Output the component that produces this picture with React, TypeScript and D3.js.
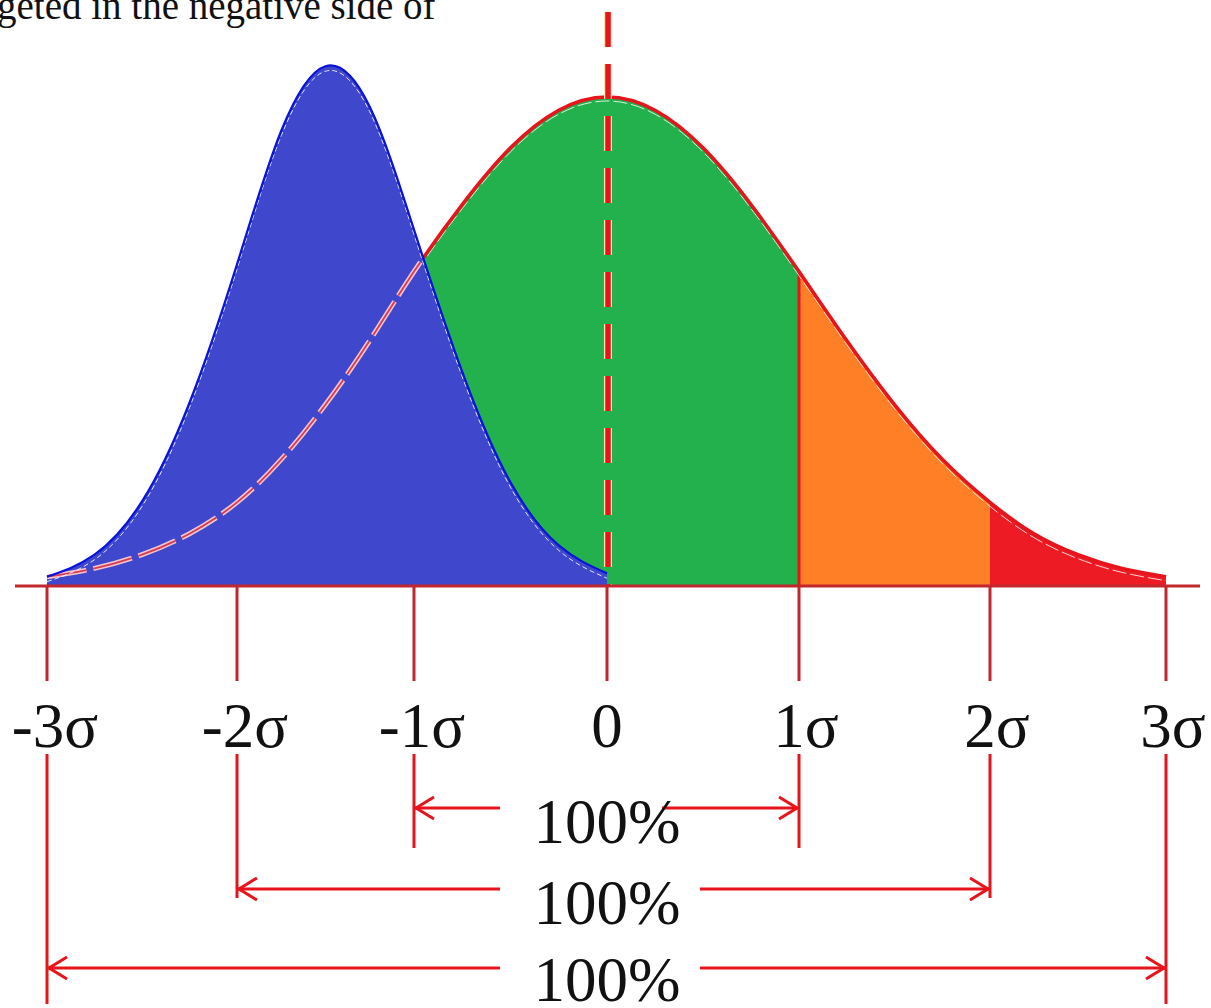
import React from "react";
import * as d3 from "d3";

// ---- data ----
const sigmaTicks = [-3, -2, -1, 0, 1, 2, 3];
const tickLabels = ["-3σ", "-2σ", "-1σ", "0", "1σ", "2σ", "3σ"];

// reference (red) distribution, sampled every 0.25σ, height relative to its peak
const redX = [-3, -2.75, -2.5, -2.25, -2, -1.75, -1.5, -1.25, -1, -0.75, -0.5, -0.25, 0,
  0.25, 0.5, 0.75, 1, 1.25, 1.5, 1.75, 2, 2.25, 2.5, 2.75, 3];
const redY = [0.019, 0.036, 0.064, 0.107, 0.171, 0.259, 0.371, 0.502, 0.643, 0.78, 0.896, 0.973, 1,
  0.973, 0.896, 0.78, 0.643, 0.502, 0.371, 0.259, 0.171, 0.107, 0.064, 0.036, 0.019];

// shifted (blue) distribution
const blueX = [-3, -2.75, -2.5, -2.25, -2, -1.75, -1.5, -1.25, -1, -0.75, -0.5, -0.25, 0];
const blueY = [0.019, 0.064, 0.173, 0.375, 0.658, 0.931, 1.063, 0.98, 0.729, 0.438, 0.212, 0.083, 0.026];

// colored bands under the red curve
const bandFrom = [-3, 1, 2];
const bandTo = [1, 2, 3];
const bandColors = ["#22b14c", "#ff7f27", "#ed1c24"];

// span annotations
const spanFrom = [-1, -2, -3];
const spanTo = [1, 2, 3];
const spanLabels = ["100%", "100%", "100%"];

const topText = "geted in the negative side of";

const W = 1211;
const H = 1008;
const baseY = 586;

export default function App() {
  const x = d3
    .scaleLinear()
    .domain(sigmaTicks)
    .range([47, 237, 414, 607, 799, 990, 1166]);
  const y = d3.scaleLinear().domain([0, 1]).range([baseY, 97]);

  const red = redX.map((v, i) => [v, redY[i]] as [number, number]);
  const blue = blueX.map((v, i) => [v, blueY[i]] as [number, number]);

  const line = d3
    .line<[number, number]>()
    .x((d) => x(d[0]))
    .y((d) => y(d[1]))
    .curve(d3.curveNatural);
  const area = d3
    .area<[number, number]>()
    .x((d) => x(d[0]))
    .y0(baseY)
    .y1((d) => y(d[1]))
    .curve(d3.curveNatural);

  const redPath = line(red) || "";
  const bluePath = line(blue) || "";
  const blueArea = area(blue) || "";

  const serif = "'Liberation Serif', 'Times New Roman', serif";
  const lineRed = "#e8141b";
  const tickRed = "#c1272d";

  const rowY = [808, 889, 968];
  const textBase = [843, 924, 1001];
  const gapLeft = [500, 500, 500];
  const gapRight = [662, 700, 700];
  const tickEnd = [848, 898, 1004];

  const redVal = (v: number) => redY[redX.indexOf(v)];

  return (
    <svg
      width={W}
      height={H}
      style={{ position: "absolute", left: 0, top: 0, background: "#fff" }}
    >
      <rect x={0} y={0} width={W} height={H} fill="#fff" />
      <text x={-3} y={19} fontFamily={serif} fontSize={39} fill="#111">
        {topText}
      </text>

      {/* bands under the red curve */}
      {bandFrom.map((f, i) => {
        const pts = red.filter((d) => d[0] >= f && d[0] <= bandTo[i]);
        return <path key={"b" + i} d={area(pts) || ""} fill={bandColors[i]} />;
      })}
      {/* boundary line at 1σ */}
      <line x1={x(1)} x2={x(1)} y1={baseY} y2={y(redVal(1))} stroke={lineRed} strokeWidth={3} />

      {/* white inner highlight and red curve */}
      <path d={redPath} fill="none" stroke="#fff" strokeWidth={1} strokeDasharray="14 4" transform="translate(0,4)" opacity={0.8} />
      <path d={redPath} fill="none" stroke={lineRed} strokeWidth={3.5} />

      {/* dashed mean line */}
      <line x1={608} x2={608} y1={12} y2={baseY} stroke="#f5e8b0" strokeWidth={8} strokeDasharray="35 17" />
      <line x1={608} x2={608} y1={12} y2={baseY} stroke={lineRed} strokeWidth={5.5} strokeDasharray="35 17" />

      {/* blue distribution */}
      <clipPath id="blueClip">
        <path d={blueArea} />
      </clipPath>
      <path d={blueArea} fill="#3f48cc" />
      <g clipPath="url(#blueClip)">
        <path d={redPath} fill="none" stroke="#f3c6cc" strokeWidth={5} strokeDasharray="40 7" />
        <path d={redPath} fill="none" stroke="#d83a55" strokeWidth={1.8} strokeDasharray="40 7" />
        <path d={bluePath} fill="none" stroke="#fff" strokeWidth={1} strokeDasharray="5 3" transform="translate(0,5)" opacity={0.85} />
      </g>
      <path d={bluePath} fill="none" stroke="#0a14d8" strokeWidth={2.2} />

      {/* baseline */}
      <line x1={15} x2={1200} y1={baseY} y2={baseY} stroke={tickRed} strokeWidth={3} />

      {/* ticks and labels */}
      {sigmaTicks.map((t, i) => (
        <g key={"t" + i}>
          <line x1={x(t)} x2={x(t)} y1={baseY} y2={681} stroke={tickRed} strokeWidth={3} />
          <text
            x={x(t) + (t === 0 ? 0 : t < 0 ? 8 : 7)}
            y={747}
            textAnchor="middle"
            fontFamily={serif}
            fontSize={63}
            fill="#111"
          >
            {tickLabels[i]}
          </text>
        </g>
      ))}

      {/* span annotations */}
      {spanFrom.map((f, i) => {
        const xl = x(f);
        const xr = x(spanTo[i]);
        const yy = rowY[i];
        return (
          <g key={"s" + i} stroke={lineRed} strokeWidth={3} fill="none">
            <line x1={xl} x2={xl} y1={754} y2={tickEnd[i]} />
            <line x1={xr} x2={xr} y1={754} y2={tickEnd[i]} />
            <line x1={xl} x2={gapLeft[i]} y1={yy} y2={yy} />
            <line x1={gapRight[i]} x2={xr} y1={yy} y2={yy} />
            <path d={`M${xl + 20},${yy - 11}L${xl + 2},${yy}L${xl + 20},${yy + 11}`} />
            <path d={`M${xr - 20},${yy - 11}L${xr - 2},${yy}L${xr - 20},${yy + 11}`} />
          </g>
        );
      })}
      {spanLabels.map((s, i) => (
        <text
          key={"l" + i}
          x={607}
          y={textBase[i]}
          textAnchor="middle"
          fontFamily={serif}
          fontSize={63}
          fill="#111"
        >
          {s}
        </text>
      ))}
    </svg>
  );
}
